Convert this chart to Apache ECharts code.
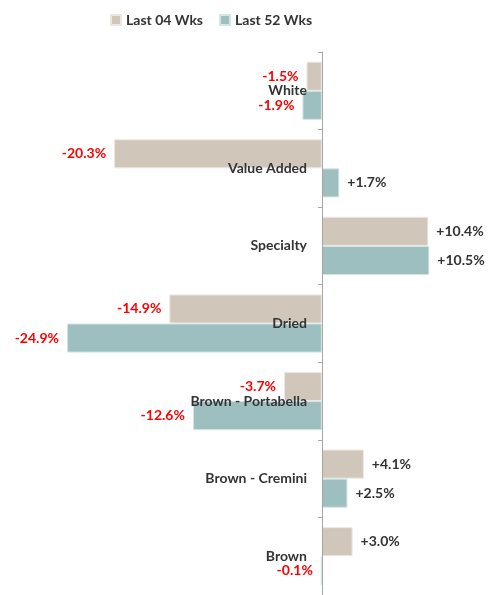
<!DOCTYPE html>
<html>
<head>
<meta charset="utf-8">
<script src="https://cdn.jsdelivr.net/npm/echarts@6/dist/echarts.min.js"></script>
<style>
  html, body { margin: 0; padding: 0; background: #fff; }
  #chart { width: 503px; height: 595px; }
</style>
</head>
<body>
<div id="chart"></div>
<script>
const categories = ["White", "Value Added", "Specialty", "Dried", "Brown - Portabella", "Brown - Cremini", "Brown"];
const last04 = [-1.5, -20.3, 10.4, -14.9, -3.7, 4.1, 3.0];
const last52 = [-1.9, 1.7, 10.5, -24.9, -12.6, 2.5, -0.1];

const xMin = -25;
const xMax = 17.5;
const gridLeft = 66;
const gridRight = 2;
const chartWidth = 503;

const fmt = (v) => (v > 0 ? "+" : "") + v.toFixed(1) + "%";

function toItems(values) {
  return values.map((v) => ({
    value: v,
    label: {
      position: v < 0 ? "left" : "right",
      color: v < 0 ? "#ff0000" : "#333333",
    },
  }));
}

// move the category axis over the zero line (labels included)
const plotWidth = chartWidth - gridLeft - gridRight;
const zeroOffset = -Math.round(((0 - xMin) / (xMax - xMin)) * plotWidth);

const chart = echarts.init(document.getElementById("chart"));

const labelStyle = {
  show: true,
  distance: 8,
  fontFamily: "Lato",
  fontWeight: "bold",
  fontSize: 14,
  formatter: (p) => fmt(p.value),
};

chart.setOption({
  animation: false,
  backgroundColor: "#ffffff",
  color: ["#d0c7ba", "#9ebfbf"],
  legend: {
    top: 8,
    left: 105,
    itemWidth: 10,
    itemHeight: 10,
    itemGap: 16,
    icon: "rect",
    textStyle: { color: "#333333", fontFamily: "Lato", fontWeight: "bold", fontSize: 14 },
  },
  grid: { top: 52, bottom: 0, left: gridLeft, right: gridRight, outerBoundsMode: "none" },
  xAxis: {
    type: "value",
    min: xMin,
    max: xMax,
    show: false,
    splitLine: { show: false },
  },
  yAxis: {
    type: "category",
    inverse: true,
    data: categories,
    offset: zeroOffset,
    z: 5,
    axisLine: { show: true, onZero: false, lineStyle: { color: "#a6a6a6", width: 1 } },
    axisTick: { show: true, length: 4, lineStyle: { color: "#a6a6a6" } },
    axisLabel: {
      margin: 15,
      color: "#333333",
      fontFamily: "Lato",
      fontWeight: "bold",
      fontSize: 14,
    },
  },
  series: [
    {
      name: "Last 04 Wks",
      type: "bar",
      barGap: "0%",
      barCategoryGap: "25%",
      itemStyle: { borderColor: "#ece8e1", borderWidth: 1 },
      label: labelStyle,
      data: toItems(last04),
    },
    {
      name: "Last 52 Wks",
      type: "bar",
      itemStyle: { borderColor: "#d5e4e4", borderWidth: 1 },
      label: labelStyle,
      data: toItems(last52),
    },
  ],
});
</script>
</body>
</html>
